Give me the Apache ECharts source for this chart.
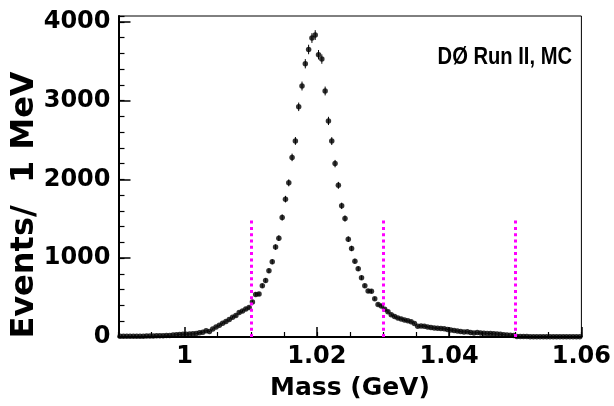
<!DOCTYPE html>
<html>
<head>
<meta charset="utf-8">
<script src="https://cdn.jsdelivr.net/npm/echarts@6/dist/echarts.min.js"></script>
<style>
html,body{margin:0;padding:0;background:#fff;}
#chart{width:614px;height:406px;}
</style>
</head>
<body>
<div id="chart"></div>
<script>
// ---- data ----
const binStart = 0.99;      // GeV, low edge of first bin
const binWidth = 0.0005;    // GeV
const counts = [
  8,8,9,9,10,10,11,11,12,13,14,15,16,17,18,
  20,24,28,32,34,36,38,40,45,55,60,80,70,100,128,148,175,198,222,250,272,310,330,355,375,
  445,541,545,651,718,841,955,1141,1255,1517,1750,1957,2280,2489,2922,3186,3469,3650,3795,3833,
  3583,3528,3123,2743,2487,2201,1925,1665,1504,1242,1124,963,867,753,651,583,580,485,
  414,393,351,322,282,260,240,230,215,205,195,172,135,140,138,127,120,114,110,108,104,95,88,82,76,
  70,64,66,58,52,56,50,48,45,44,40,38,35,30,25,22,18,
  6,5,5,5,4,4,4,4,3,3,3,3,3,2,2,2,2,2,2,2
];
const massTicks = [1.00, 1.02, 1.04, 1.06];
const countTicks = [0, 1000, 2000, 3000, 4000];
const cutMasses = [1.01, 1.03, 1.05];
const cutTop = 1500;
const xTitle = 'Mass (GeV)';
const yTitle = 'Events/  1 MeV';
const labelText = 'D\u00D8 Run II, MC';

// ---- build ----
const points = counts.map((c, i) => [binStart + binWidth * (i + 0.5), c]);
const errs = counts.map((c, i) => [binStart + binWidth * (i + 0.5), c, Math.sqrt(c)]);

const FONT = '"DejaVu Sans", sans-serif';
const chart = echarts.init(document.getElementById('chart'), null, {renderer: 'canvas'});

const option = {
  animation: false,
  backgroundColor: '#fff',
  grid: {left: 118.5, right: 32, top: 16, bottom: 68, show: true, borderColor: '#000', borderWidth: 1, backgroundColor: 'transparent'},
  xAxis: [{
    type: 'value', min: 0.99, max: 1.06,
    axisLine: {show: true, lineStyle: {color: '#000', width: 2}},
    axisTick: {show: true, inside: true, length: 10, lineStyle: {color: '#000', width: 1.5}, customValues: massTicks},
    axisLabel: {color: '#000', fontFamily: FONT, fontWeight: 'bold', fontSize: 24, margin: 8,
      customValues: massTicks, formatter: v => String(+(+v).toFixed(2))},
    splitLine: {show: false},
    name: xTitle, nameLocation: 'middle', nameGap: 39,
    nameTextStyle: {color: '#000', fontFamily: FONT, fontWeight: 'bold', fontSize: 25}
  }, {
    type: 'value', min: 0.99, max: 1.06, interval: 0.005, position: 'bottom',
    axisLine: {show: false},
    axisTick: {show: true, inside: true, length: 5, lineStyle: {color: '#000', width: 1.2}},
    axisLabel: {show: false}, splitLine: {show: false}
  }],
  yAxis: [{
    type: 'value', min: 0, max: 4075,
    axisLine: {show: true, lineStyle: {color: '#000', width: 2}},
    axisTick: {show: true, inside: true, length: 12, lineStyle: {color: '#000', width: 1.5}, customValues: countTicks},
    axisLabel: {color: '#000', fontFamily: FONT, fontWeight: 'bold', fontSize: 24, margin: 8,
      customValues: countTicks, formatter: v => String(Math.round(v))},
    splitLine: {show: false}
  }, {
    type: 'value', min: 0, max: 4075, interval: 200, position: 'left',
    axisLine: {show: false},
    axisTick: {show: true, inside: true, length: 6, lineStyle: {color: '#000', width: 1.2}},
    axisLabel: {show: false}, splitLine: {show: false}
  }],
  graphic: [{
    type: 'text', x: 25, y: 205, rotation: Math.PI / 2,
    style: {text: yTitle, font: 'bold 32px ' + FONT, fill: '#000', align: 'center', verticalAlign: 'middle'}
  }, {
    type: 'text', x: 572, y: 57, scaleX: 0.84,
    style: {text: labelText, font: 'bold 24px "Liberation Sans", sans-serif', fill: '#000', align: 'right', verticalAlign: 'middle'}
  }],
  series: [{
    type: 'custom',
    xAxisIndex: 0, yAxisIndex: 0,
    data: errs,
    renderItem: function (params, api) {
      const x = api.value(0), y = api.value(1), e = api.value(2);
      const p1 = api.coord([x, y - e]);
      const p2 = api.coord([x, y + e]);
      return {type: 'line', shape: {x1: p1[0], y1: p1[1], x2: p2[0], y2: p2[1]},
        style: {stroke: '#000', lineWidth: 1}};
    },
    z: 2
  }, {
    type: 'scatter',
    xAxisIndex: 0, yAxisIndex: 0,
    data: points,
    symbol: 'circle', symbolSize: 5.5,
    itemStyle: {color: '#000'},
    z: 3,
    markLine: {
      silent: true, symbol: ['none', 'none'], label: {show: false},
      lineStyle: {color: '#ff00ff', width: 3, type: [3, 3.3], opacity: 1},
      data: cutMasses.map(m => [{coord: [m, 0]}, {coord: [m, cutTop]}]),
      z: 5
    }
  }]
};
chart.setOption(option);
</script>
</body>
</html>
